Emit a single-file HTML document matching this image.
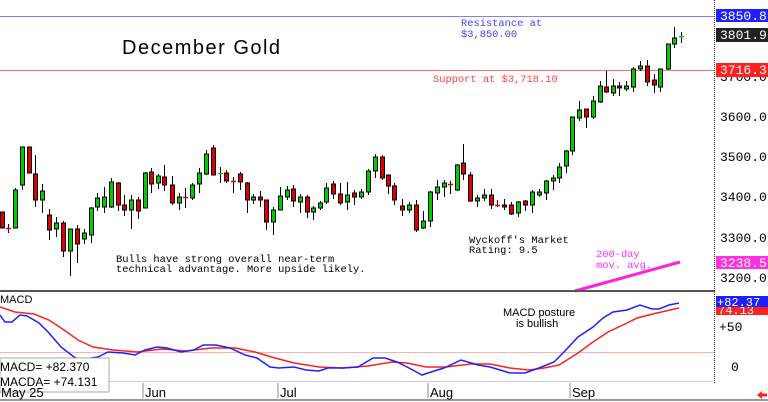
<!DOCTYPE html>
<html><head><meta charset="utf-8"><style>
html,body{margin:0;padding:0;background:#fff;width:768px;height:402px;overflow:hidden}
svg{display:block;font-family:"Liberation Mono",monospace}
</style></head><body>
<svg id="s" width="768" height="402" viewBox="0 0 768 402" xmlns="http://www.w3.org/2000/svg">
<rect width="768" height="402" fill="#fff"/>
<line x1="0" y1="16.5" x2="715" y2="16.5" stroke="#8080ff" stroke-width="1"/>
<line x1="0" y1="70.5" x2="715" y2="70.5" stroke="#ff7070" stroke-width="1"/>
<text x="122" y="54" font-family="Liberation Sans, sans-serif" font-size="20" letter-spacing="1.5" fill="#000">December Gold</text>
<g font-size="10.4">
<text x="461" y="26" fill="#4040ff">Resistance at</text>
<text x="461" y="37" fill="#4040ff">$3,850.00</text>
<text x="433" y="82" fill="#ff4040">Support at $3,718.10</text>
<text x="116" y="262" fill="#000">Bulls have strong overall near-term</text>
<text x="116" y="272" fill="#000">technical advantage. More upside likely.</text>
<text x="469" y="243" fill="#000">Wyckoff's Market</text>
<text x="469" y="253" fill="#000">Rating: 9.5</text>
<text x="596" y="257" fill="#ff30ff">200-day</text>
<text x="596" y="268" fill="#ff30ff">mov. avg.</text>
</g>
<line x1="575" y1="291" x2="680" y2="262" stroke="#ff20e0" stroke-width="3"/>
<g id="c"></g>
<line x1="0" y1="291" x2="715" y2="291" stroke="#555" stroke-width="2"/>
<line x1="714.5" y1="0" x2="714.5" y2="383" stroke="#333" stroke-width="1" stroke-dasharray="1,1"/>
<line x1="0" y1="352.5" x2="714" y2="352.5" stroke="#ffb0b0"/>
<line x1="0" y1="381.5" x2="714" y2="381.5" stroke="#c8c8f0"/>
<line x1="0" y1="400" x2="768" y2="400" stroke="#999" stroke-width="2"/>
<text x="0" y="303" font-family="Liberation Sans, sans-serif" font-size="11">MACD</text>
<text x="503" y="316" font-family="Liberation Sans, sans-serif" font-size="11">MACD posture</text>
<text x="516" y="327" font-family="Liberation Sans, sans-serif" font-size="11">is bullish</text>
<polyline fill="none" stroke="#ff2020" stroke-width="1.5" points="0,307 15,312 34,314 49,320 64,330 78,340 93,347 113,350 137,352 162,349 186,351 211,348 235,348 255,352 275,358 294,363 319,367 343,368 368,366 392,362 407,363 426,367 446,367 471,364 490,364 510,368 529,370 544,368 559,365 578,353 593,342 608,332 623,325 637,318 657,313 679,308"/>
<polyline fill="none" stroke="#2020ff" stroke-width="1.5" points="0,315 5,322 12,322 20,315 27,316 39,323 49,333 61,347 74,357 81,360 91,358 98,357 108,352 123,353 135,355 145,350 157,347 167,348 181,352 194,350 203,345 216,345 230,348 245,355 257,358 270,367 279,368 294,367 306,370 319,371 328,368 343,368 358,367 373,358 385,358 397,362 409,368 422,375 431,372 444,368 461,360 478,365 490,367 510,373 525,373 539,368 554,362 564,352 578,337 593,327 603,318 613,312 627,310 640,305 652,309 659,309 669,305 679,303"/>
<rect x="0" y="358" width="109" height="34" fill="#fff" stroke="#aaa"/>
<text x="0" y="371" font-family="Liberation Sans, sans-serif" font-size="12">MACD=  +82.370</text>
<text x="0" y="386" font-family="Liberation Sans, sans-serif" font-size="12">MACDA= +74.131</text>
<g font-family="Liberation Sans, sans-serif" font-size="13">
<text x="1" y="397">May 25</text><line x1="143" y1="383" x2="143" y2="398" stroke="#888"/><text x="145" y="397">Jun</text>
<line x1="278" y1="383" x2="278" y2="398" stroke="#888"/><text x="280" y="397">Jul</text>
<line x1="428" y1="383" x2="428" y2="398" stroke="#888"/><text x="430" y="397">Aug</text>
<line x1="570" y1="383" x2="570" y2="398" stroke="#888"/><text x="572" y="397">Sep</text>
</g>
<g font-size="13" fill="#000">
<text x="720" y="81">3700.0</text>
<text x="720" y="121">3600.0</text>
<text x="720" y="161">3500.0</text>
<text x="720" y="201">3400.0</text>
<text x="720" y="242">3300.0</text>
<text x="720" y="282">3200.0</text>
<text x="719" y="331">+50</text>
<text x="731" y="371">0</text>
</g>
<rect x="716" y="9" width="52" height="13" fill="#2020ff"/><text x="720" y="20" font-size="13" fill="#fff">3850.8</text>
<rect x="716" y="28" width="52" height="14" fill="#222"/><text x="720" y="39" font-size="13" fill="#fff">3801.9</text>
<rect x="716" y="63" width="52" height="14" fill="#ff2020"/><text x="720" y="74" font-size="13" fill="#fff">3716.3</text>
<rect x="716" y="256" width="52" height="13" fill="#ff30e0"/><text x="720" y="267" font-size="13" fill="#fff">3238.5</text>
<rect x="716" y="306" width="52" height="9" fill="#ff2020"/><text x="718" y="314" font-size="12" fill="#fff">74.13</text>
<rect x="716" y="296" width="52" height="11" fill="#2020ff"/><text x="717" y="306" font-size="12" fill="#fff">+82.37</text>
<path d="M757,395 l5,-4 v2.5 h5 v3 h-5 v2.5z" fill="#ff2020"/>
</svg>
<script>
var d=[
[0,'r',212,228,212,228],[6,'d',228,228,224,233],[13,'g',190,228,188,228],[20,'g',147,185,147,190],[27,'r',147,173,147,173],
[33,'r',174,200,155,207],[40,'g',191,200,184,213],[47,'r',215,230,209,240],[54,'g',223,229,217,237],[61,'r',223,251,221,257],
[68,'g',229,251,229,276],[75,'r',229,244,225,263],[82,'g',233,239,229,244],[89,'g',208,235,207,243],[95,'g',198,207,193,211],
[102,'g',197,207,187,213],[109,'g',182,207,178,208],[116,'r',183,205,182,211],[122,'r',205,210,195,216],[129,'g',200,210,195,229],
[136,'r',200,211,197,219],[143,'g',173,208,172,208],[149,'r',172,184,168,193],[156,'g',176,183,174,189],[162,'r',177,185,165,191],
[170,'r',185,203,176,205],[177,'g',197,203,193,210],[183,'d',197,197,188,208],[190,'g',185,198,183,200],[197,'g',173,184,168,193],
[204,'g',154,174,150,175],[211,'r',148,175,145,175],[218,'dg',173,173,167,183],[224,'r',173,181,170,183],[231,'d',181,181,177,193],
[238,'r',174,182,172,190],[245,'r',183,200,182,213],[251,'g',197,200,194,204],[258,'r',197,200,191,207],[264,'r',200,222,200,230],
[271,'g',210,222,207,235],[278,'g',196,210,187,210],[285,'g',190,197,186,200],[291,'r',189,201,185,207],[298,'g',197,202,194,213],
[305,'r',197,212,195,218],[311,'g',208,212,206,220],[318,'g',203,208,201,210],[324,'g',188,202,183,204],[331,'r',184,194,181,199],
[338,'r',194,203,183,205],[345,'g',195,202,182,210],[352,'r',193,197,190,205],[359,'g',192,197,189,199],[366,'g',171,192,169,195],
[373,'g',157,171,154,178],[380,'r',157,178,155,180],[386,'r',175,186,175,194],[392,'r',186,200,183,205],[400,'r',206,210,199,216],
[407,'g',205,210,202,213],[414,'r',205,230,200,232],[421,'g',221,228,211,229],[428,'g',192,221,191,227],[435,'g',187,193,180,200],
[442,'g',183,187,180,197],[448,'d',184,184,181,194],[455,'g',165,190,164,191],[461,'r',163,174,144,180],[468,'r',175,201,172,202],
[475,'g',198,201,195,207],[482,'g',195,198,189,201],[489,'r',195,205,189,209],[495,'d',205,205,200,207],[502,'r',205,207,199,210],
[509,'r',205,214,202,215],[516,'g',202,213,201,217],[523,'r',201,205,200,211],[530,'g',192,205,190,213],[537,'g',192,195,189,197],
[544,'g',181,193,180,200],[551,'g',178,181,175,190],[557,'g',167,178,163,183],[564,'g',151,166,150,173],[570,'g',117,151,117,155],
[577,'g',110,118,101,121],[584,'r',109,117,109,128],[591,'g',101,117,96,119],[598,'g',86,102,81,103],[604,'r',87,92,71,93],
[611,'g',86,93,79,96],[617,'r',86,88,82,96],[624,'g',86,89,81,91],[631,'g',69,87,67,92],[638,'g',66,69,61,71],
[645,'r',66,82,60,86],[652,'r',80,85,74,93],[658,'g',69,87,69,92],[666,'g',44,69,44,70],[672,'g',38,44,27,48],[679,'dg',36,36,32,43]];
var h='';
d.forEach(function(c){var x=c[0]+2,t=c[1];
h+='<line x1="'+(x+.5)+'" y1="'+c[4]+'" x2="'+(x+.5)+'" y2="'+c[5]+'" stroke="#000"/>';
if(t=='d'||t=='dg'){h+='<line x1="'+(x-2)+'" y1="'+(c[2]+.5)+'" x2="'+(x+3)+'" y2="'+(c[2]+.5)+'" stroke="'+(t=='d'?'#e00':'#0c0')+'" stroke-width="1.5"/>';}
else{var hh=Math.max(2,c[3]-c[2]);h+='<rect x="'+(x-1.5)+'" y="'+c[2]+'" width="4" height="'+hh+'" fill="'+(t=='g'?'#00cc00':'#dd0000')+'" stroke="#000" stroke-width="1"/>';}
});
document.getElementById('c').innerHTML=h;
</script>
</body></html>
